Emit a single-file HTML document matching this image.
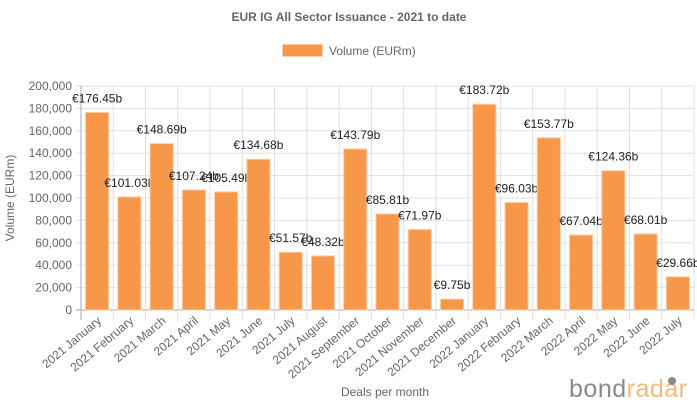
<!DOCTYPE html>
<html><head><meta charset="utf-8"><style>
body{margin:0;background:#fff;font-family:"Liberation Sans",sans-serif}
svg text{font-family:"Liberation Sans",sans-serif}
</style></head><body>
<svg width="697" height="404">
<text x="349" y="21" text-anchor="middle" font-size="12" font-weight="bold" fill="#666">EUR IG All Sector Issuance - 2021 to date</text>
<g>
<rect x="282.5" y="44.5" width="40" height="12" fill="#f7974a" stroke="#fbd2ae"/>
<text x="329" y="55" font-size="12" fill="#666">Volume (EURm)</text>
</g>
<g id="grid"></g><g id="bars"></g>
<text transform="translate(14,198) rotate(-90)" text-anchor="middle" font-size="12" fill="#666">Volume (EURm)</text>
<text x="385" y="396" text-anchor="middle" font-size="12" fill="#666">Deals per month</text>
<g>
<text x="569" y="397" font-size="25" fill="#8a8a8a" textLength="118" lengthAdjust="spacing">bond<tspan fill="#f6b976">radar</tspan></text>
<circle cx="672" cy="381" r="4" fill="#888"/>
</g>
</svg>
<script>
const categories=["2021 January","2021 February","2021 March","2021 April","2021 May","2021 June","2021 July","2021 August","2021 September","2021 October","2021 November","2021 December","2022 January","2022 February","2022 March","2022 April","2022 May","2022 June","2022 July"];
const values=[176.45,101.03,148.69,107.24,105.49,134.68,51.57,48.32,143.79,85.81,71.97,9.75,183.72,96.03,153.77,67.04,124.36,68.01,29.66];
const yTicks=[0,20000,40000,60000,80000,100000,120000,140000,160000,180000,200000];
const NS="http://www.w3.org/2000/svg";
const L=81,R=694,T=86,B=310;
const cw=(R-L)/categories.length;
const y=v=>B-(v/200000)*(B-T);
const x=i=>L+i*cw;
function mk(p,tag,a){const e=document.createElementNS(NS,tag);for(const k in a)e.setAttribute(k,a[k]);p.appendChild(e);return e;}
const g=document.getElementById('grid'),bg=document.getElementById('bars');
yTicks.forEach(t=>{
 const l=mk(g,'line',{x1:76,x2:R,y1:y(t),y2:y(t),stroke:t===0?'#aaa':'#e0e0e0'});
 
 
 const tx=mk(g,'text',{x:72,y:y(t)+4,'text-anchor':'end','font-size':12,fill:'#666'});
 tx.textContent=t.toLocaleString('en-US');
 
 
});
for(let i=0;i<=categories.length;i++){
 const l=mk(g,'line',{x1:x(i),x2:x(i),y1:T,y2:B+10,stroke:i===0?'#aaa':'#e0e0e0'});
 
 
}
categories.forEach((c,i)=>{
 const cx=x(i)+cw/2;
 const t=mk(g,'text',{transform:`translate(${cx+5},${B+12}) rotate(-40)`,'text-anchor':'end','font-size':12,fill:'#666'});
 t.textContent=c;
 
 
 const bw=cw*0.72,top=y(values[i]*1000);
 const r=mk(bg,'rect',{x:cx-bw/2,y:top,width:bw,height:B-top,fill:'#f7974a',stroke:'#fbd2ae','stroke-width':1});
 
 
 const lb=mk(bg,'text',{x:cx,y:top-10,'text-anchor':'middle','font-size':12,fill:'#222'});
 lb.textContent='€'+values[i].toFixed(2)+'b';
 
 
});
</script>
</body></html>
